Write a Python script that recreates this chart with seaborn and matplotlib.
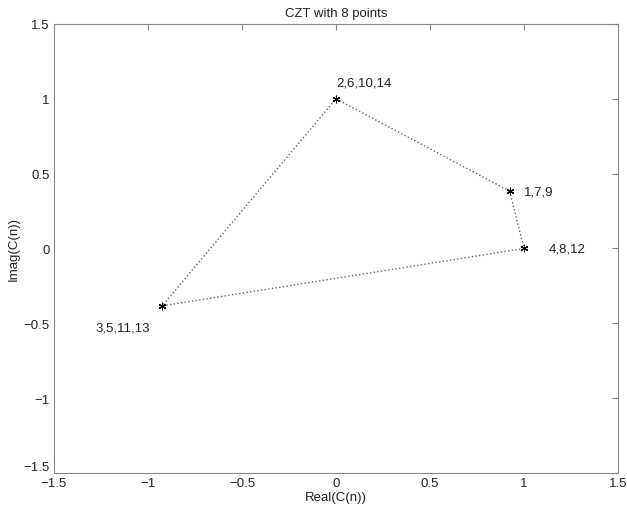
import numpy as np
import pandas as pd
import matplotlib
matplotlib.use('Agg')
import matplotlib.pyplot as plt
import seaborn as sns

# CZT outputs C(n), n = 1..14
n_idx = list(range(1, 15))
re_vals = [0.924, 0.0, -0.924, 1.0, -0.924, 0.0, 0.924, 1.0, 0.924, 0.0, -0.924, 1.0, -0.924, 0.0]
im_vals = [0.383, 1.0, -0.383, 0.0, -0.383, 1.0, 0.383, 0.0, 0.383, 1.0, -0.383, 0.0, -0.383, 1.0]

label_text = ['2,6,10,14', '1,7,9', '4,8,12', '3,5,11,13']
label_x = [0.0, 1.0, 1.13, -1.28]
label_y = [1.11, 0.38, 0.0, -0.53]

df = pd.DataFrame({'n': n_idx, 're': re_vals, 'im': im_vals})
# the path retraces the same edges; draw each edge once so the dots stay visible
path = df.iloc[[0, 1, 2, 3, 8]]

sns.set_style('white')
plt.rcParams['font.family'] = ['Liberation Sans', 'DejaVu Sans']

fig = plt.figure(figsize=(6.27, 5.10), dpi=100)
ax = fig.add_axes([0.0861, 0.0706, 0.8995, 0.8804])

sns.lineplot(data=path, x='re', y='im', sort=False, ax=ax, color='#666666',
             linestyle=':', linewidth=1.0, estimator=None)
sns.scatterplot(data=df, x='re', y='im', ax=ax, marker=(6, 2, 0), color='black',
                s=22, linewidth=0.7, edgecolor='black', zorder=3)

for t, x, y in zip(label_text, label_x, label_y):
    ax.text(x, y, t, fontsize=9.5, color='#222222', ha='left', va='center')

ax.set_xlim(-1.5, 1.5)
ax.set_ylim(-1.5, 1.5)
ticks = np.arange(-1.5, 1.51, 0.5)
tick_lbl = ['\u22121.5', '\u22121', '\u22120.5', '0', '0.5', '1', '1.5']
ax.set_xticks(ticks)
ax.set_yticks(ticks)
ax.set_xticklabels(tick_lbl)
ax.set_yticklabels(tick_lbl)
ax.tick_params(direction='in', length=4, width=0.8, color='#888888',
               labelsize=9.5, labelcolor='#222222', top=True, right=True, pad=3)
ax.get_yticklabels()[0].set_va('bottom')
for sp in ax.spines.values():
    sp.set_visible(True)
    sp.set_color('#888888')
    sp.set_linewidth(0.8)

ax.set_title('CZT with 8 points', fontsize=9.5, color='#222222', pad=6)
ax.set_xlabel('Real(C(n))', fontsize=9.5, color='#222222', labelpad=1)
ax.set_ylabel('Imag(C(n))', fontsize=9.5, color='#222222', labelpad=3)

fig.savefig('out.png', dpi=100)
